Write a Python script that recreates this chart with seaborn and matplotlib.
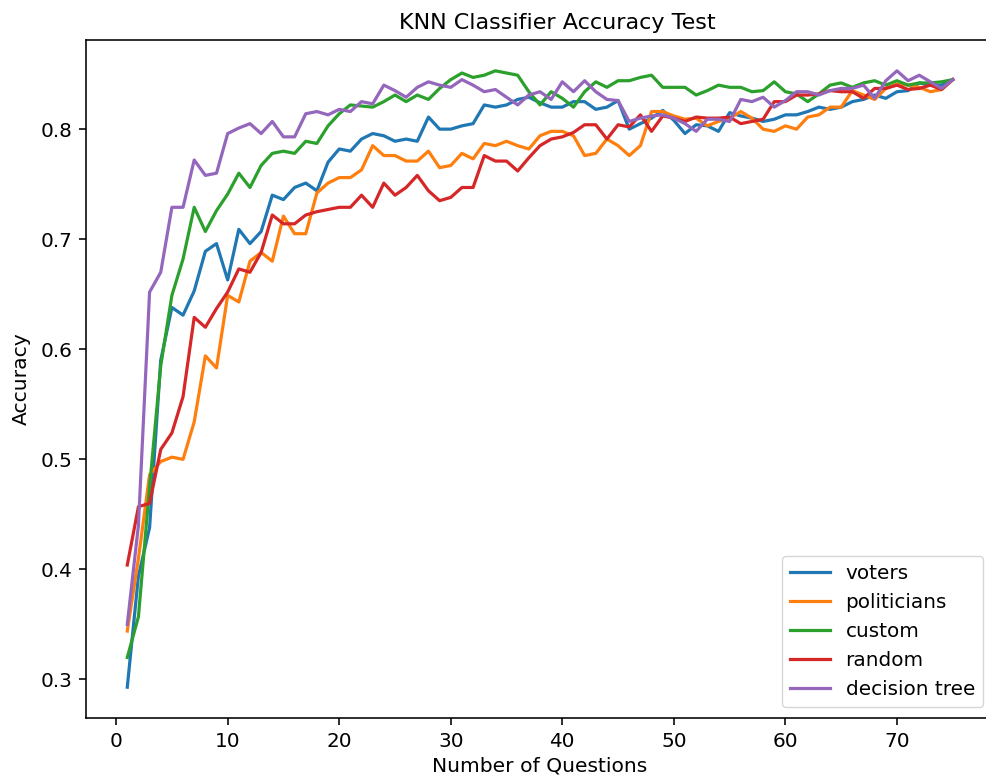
import numpy as np
import pandas as pd
import seaborn as sns
import matplotlib
matplotlib.use("Agg")
import matplotlib.pyplot as plt

questions = list(range(1, 76))

voters = [0.293, 0.394, 0.438, 0.590, 0.638, 0.631, 0.653, 0.689, 0.696, 0.663,
          0.709, 0.696, 0.707, 0.740, 0.736, 0.747, 0.751, 0.744, 0.770, 0.782,
          0.780, 0.791, 0.796, 0.794, 0.789, 0.791, 0.789, 0.811, 0.800, 0.800,
          0.803, 0.805, 0.822, 0.820, 0.822, 0.827, 0.829, 0.824, 0.820, 0.820,
          0.825, 0.825, 0.818, 0.820, 0.826, 0.800, 0.805, 0.810, 0.817, 0.808,
          0.796, 0.804, 0.803, 0.798, 0.815, 0.812, 0.810, 0.807, 0.809, 0.813,
          0.813, 0.816, 0.820, 0.818, 0.820, 0.825, 0.827, 0.831, 0.828, 0.834,
          0.835, 0.842, 0.840, 0.840, 0.845]

politicians = [0.344, 0.410, 0.486, 0.498, 0.502, 0.500, 0.534, 0.594, 0.583, 0.649,
               0.643, 0.680, 0.688, 0.680, 0.721, 0.705, 0.705, 0.742, 0.751, 0.756,
               0.756, 0.763, 0.785, 0.776, 0.776, 0.771, 0.771, 0.780, 0.765, 0.767,
               0.778, 0.773, 0.787, 0.785, 0.789, 0.785, 0.782, 0.794, 0.798, 0.798,
               0.794, 0.776, 0.778, 0.791, 0.785, 0.776, 0.785, 0.816, 0.816, 0.812,
               0.809, 0.810, 0.803, 0.807, 0.810, 0.816, 0.810, 0.800, 0.798, 0.803,
               0.800, 0.811, 0.813, 0.820, 0.820, 0.835, 0.831, 0.827, 0.837, 0.841,
               0.840, 0.838, 0.834, 0.836, 0.845]

custom = [0.320, 0.357, 0.475, 0.585, 0.649, 0.682, 0.729, 0.707, 0.726, 0.741,
          0.760, 0.747, 0.767, 0.778, 0.780, 0.778, 0.789, 0.787, 0.803, 0.814,
          0.822, 0.821, 0.820, 0.825, 0.831, 0.825, 0.831, 0.827, 0.837, 0.845,
          0.851, 0.847, 0.849, 0.853, 0.851, 0.849, 0.834, 0.822, 0.834, 0.828,
          0.820, 0.834, 0.843, 0.838, 0.844, 0.844, 0.847, 0.849, 0.838, 0.838,
          0.838, 0.831, 0.835, 0.840, 0.838, 0.838, 0.834, 0.835, 0.843, 0.834,
          0.832, 0.825, 0.832, 0.840, 0.842, 0.838, 0.842, 0.844, 0.840, 0.844,
          0.840, 0.842, 0.842, 0.843, 0.845]

random_q = [0.404, 0.457, 0.460, 0.509, 0.524, 0.557, 0.629, 0.620, 0.637, 0.652,
            0.673, 0.670, 0.688, 0.722, 0.714, 0.714, 0.722, 0.725, 0.727, 0.729,
            0.729, 0.740, 0.729, 0.751, 0.740, 0.747, 0.758, 0.744, 0.735, 0.738,
            0.747, 0.747, 0.776, 0.771, 0.771, 0.762, 0.774, 0.785, 0.791, 0.793,
            0.797, 0.804, 0.804, 0.791, 0.804, 0.802, 0.813, 0.798, 0.812, 0.810,
            0.807, 0.811, 0.810, 0.810, 0.811, 0.805, 0.807, 0.809, 0.825, 0.825,
            0.831, 0.831, 0.832, 0.835, 0.834, 0.834, 0.828, 0.837, 0.837, 0.840,
            0.836, 0.837, 0.840, 0.836, 0.845]

decision_tree = [0.350, 0.440, 0.652, 0.670, 0.729, 0.729, 0.772, 0.758, 0.760, 0.796,
                 0.801, 0.805, 0.796, 0.807, 0.793, 0.793, 0.814, 0.816, 0.813, 0.818,
                 0.816, 0.825, 0.823, 0.840, 0.835, 0.829, 0.838, 0.843, 0.840, 0.838,
                 0.845, 0.840, 0.834, 0.836, 0.829, 0.822, 0.831, 0.834, 0.827, 0.843,
                 0.834, 0.844, 0.834, 0.827, 0.826, 0.807, 0.810, 0.812, 0.813, 0.810,
                 0.805, 0.798, 0.809, 0.809, 0.807, 0.827, 0.825, 0.829, 0.820, 0.826,
                 0.834, 0.834, 0.831, 0.835, 0.837, 0.837, 0.840, 0.828, 0.844, 0.853,
                 0.844, 0.849, 0.843, 0.837, 0.845]

series_names = ["voters", "politicians", "custom", "random", "decision tree"]
series_values = [voters, politicians, custom, random_q, decision_tree]

frames = []
for name, vals in zip(series_names, series_values):
    frames.append(pd.DataFrame({"questions": questions, "accuracy": vals, "method": name}))
df = pd.concat(frames, ignore_index=True)

plt.rcParams["font.family"] = ["DejaVu Sans"]

fig = plt.figure(figsize=(9.87, 7.82), dpi=100)
ax = fig.add_axes([86 / 987, 1 - 718 / 782, 908 / 987, 678 / 782])

palette = sns.color_palette("tab10", 5)
sns.lineplot(data=df, x="questions", y="accuracy", hue="method",
             hue_order=series_names, palette=palette, linewidth=2.3, ax=ax)

ax.set_title("KNN Classifier Accuracy Test", fontsize=16, pad=8, x=(557 - 86) / 908)
ax.set_xlabel("Number of Questions", fontsize=14.6, labelpad=4)
ax.set_ylabel("Accuracy", fontsize=14.6, labelpad=7)
ax.set_xticks([0, 10, 20, 30, 40, 50, 60, 70])
ax.set_yticks([0.3, 0.4, 0.5, 0.6, 0.7, 0.8])
ax.tick_params(labelsize=14.4, length=5, width=1.15, pad=5)
for s in ax.spines.values():
    s.set_linewidth(1.15)
ax.spines["right"].set_visible(False)
ax.margins(x=0.05, y=0.05)

sns.move_legend(ax, "lower right", bbox_to_anchor=(983 / 987, 1 - 707 / 782),
                bbox_transform=fig.transFigure, title=None, fontsize=14.4,
                borderaxespad=0, frameon=True)

fig.savefig("out.png", dpi=100)
